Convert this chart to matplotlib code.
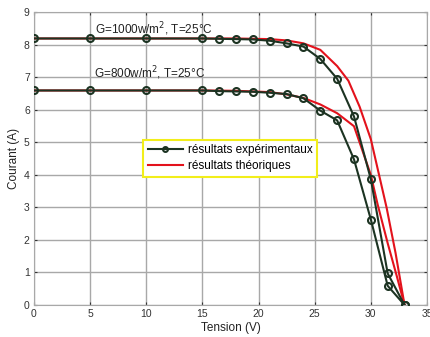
import numpy as np
import matplotlib
matplotlib.use('Agg')
import matplotlib.pyplot as plt

plt.rcParams['font.family'] = ['Liberation Sans', 'DejaVu Sans']

# experimental points (G=1000 and G=800)
v_exp = [0, 5, 10, 15, 16.5, 18, 19.5, 21, 22.5, 24, 25.5, 27, 28.5, 30, 31.5, 33]
i_exp_1000 = [8.2, 8.2, 8.2, 8.2, 8.19, 8.18, 8.17, 8.13, 8.05, 7.95, 7.57, 6.96, 5.8, 3.87, 0.97, 0]
i_exp_800 = [6.6, 6.6, 6.6, 6.6, 6.58, 6.57, 6.56, 6.53, 6.49, 6.36, 5.98, 5.68, 4.48, 2.63, 0.59, 0]

# theoretical curves
v_th_1000 = [0, 5, 10, 15, 18, 21, 22.5, 24, 25.5, 27, 28, 29, 30, 30.6, 31.4, 32.2, 33]
i_th_1000 = [8.2, 8.2, 8.2, 8.2, 8.2, 8.18, 8.14, 8.05, 7.85, 7.35, 6.9, 6.1, 5.1, 4.2, 3.0, 1.6, 0]
v_th_800 = [0, 5, 10, 15, 18, 21, 22.5, 24, 25.5, 27, 28.5, 29, 30, 30.6, 31.5, 32.3, 33]
i_th_800 = [6.6, 6.6, 6.6, 6.6, 6.59, 6.55, 6.48, 6.37, 6.17, 5.9, 5.5, 5.0, 4.0, 3.1, 1.9, 0.9, 0]

exp_color = '#1c3322'
th_color = '#e3121c'

fig = plt.figure(figsize=(4.3, 3.37), dpi=100)
ax = fig.add_axes([0.079, 0.095, 0.914, 0.868])

ax.plot(v_th_1000, i_th_1000, color=th_color, lw=1.5, zorder=3)
ax.plot(v_th_800, i_th_800, color=th_color, lw=1.5, zorder=3)
ax.plot(v_exp, i_exp_1000, color=exp_color, lw=1.5, marker='o', ms=5,
        mfc='none', mec=exp_color, mew=1.5, zorder=4, label='résultats expérimentaux')
ax.plot(v_exp, i_exp_800, color=exp_color, lw=1.5, marker='o', ms=5,
        mfc='none', mec=exp_color, mew=1.5, zorder=4)
ax.plot([], [], color=th_color, lw=1.5, label='résultats théoriques')

ax.text(5.4, 8.33, r'G=1000w/m$^{2}$, T=25°C', fontsize=8.5, color='#222222')
ax.text(5.35, 7.0, r'G=800w/m$^{2}$, T=25°C', fontsize=8.5, color='#222222')

ax.set_xlim(0, 35)
ax.set_ylim(0, 9)
ax.set_xticks(np.arange(0, 36, 5))
ax.set_yticks(np.arange(0, 10, 1))
ax.grid(True, color='#a8a8a8', linewidth=1.0)
ax.tick_params(direction='in', length=2, labelsize=7.5, colors='#333333',
               top=True, right=True, pad=3)
for s in ax.spines.values():
    s.set_color('#a8a8a8')

ax.set_xlabel('Tension (V)', fontsize=8.5, color='#222222', labelpad=2)
ax.set_ylabel('Courant (A)', fontsize=8.5, color='#222222', labelpad=3)

leg = ax.legend(loc='upper left', bbox_to_anchor=(0.262, 0.585), fontsize=8.5,
                frameon=True, fancybox=False, handlelength=3.0,
                borderpad=0.4, labelspacing=0.3, handletextpad=0.4)
leg.get_frame().set_edgecolor('#f2ee1a')
leg.get_frame().set_linewidth(1.5)
leg.get_frame().set_alpha(1)
leg.legend_handles[0].set_markersize(3.5)

fig.savefig('out.png', dpi=100)
